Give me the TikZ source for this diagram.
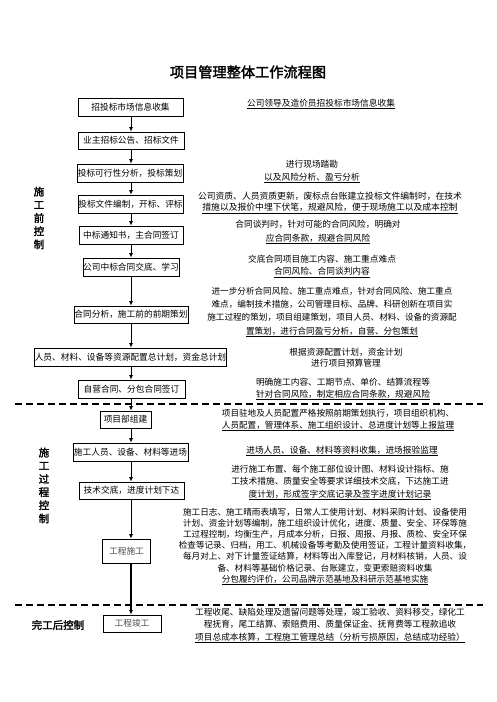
\documentclass[tikz,border=0pt]{standalone}
\usepackage{fontspec}
\newfontfamily\cjk{Noto Sans CJK SC}
\newfontfamily\cjkb[FakeBold=2]{Noto Sans CJK SC}
\usetikzlibrary{arrows.meta}
\begin{document}
\begin{tikzpicture}[x=1pt,y=-1pt,
  box/.style={draw, line width=0.7pt, inner sep=0pt, font=\cjk\fontsize{8.7}{10}\selectfont},
  arr/.style={-{Latex[length=4.5pt,width=4pt]}, line width=0.8pt},
  dashline/.style={line width=1.2pt, dash pattern=on 7pt off 4pt},
  note/.style={font=\cjk\fontsize{8.7}{12.5}\selectfont, align=center, inner sep=0pt},
  side/.style={font=\cjkb\fontsize{10.5}{13.2}\selectfont, align=center, inner sep=0pt}]
\useasboundingbox (0,0) rectangle (496,702);
\fill[white] (0,0) rectangle (496,702);

% title
\node[font=\cjkb\fontsize{14.2}{16}\selectfont, inner sep=0pt] (title) at (248,72) {项目管理整体工作流程图};

% boxes
\node[box, minimum width=105pt, minimum height=18pt] (b1) at (130.5,107) {招投标市场信息收集};
\node[box, minimum width=106pt, minimum height=17pt] (b2) at (131,140.5) {业主招标公告、招标文件};
\node[box, minimum width=106pt, minimum height=18pt] (b3) at (130,173) {投标可行性分析，投标策划};
\node[box, minimum width=105pt, minimum height=18pt] (b4) at (130.5,204) {投标文件编制，开标、评标};
\node[box, minimum width=104pt, minimum height=18pt] (b5) at (131,235) {中标通知书，主合同签订};
\node[box, minimum width=94pt, minimum height=18pt] (b6) at (131,267) {公司中标合同交底、学习};
\node[box, minimum width=114pt, minimum height=17pt] (b7) at (131,314.5) {合同分析，施工前的前期策划};
\node[box, minimum width=191pt, minimum height=18pt] (b8) at (130.5,357) {人员、材料、设备等资源配置总计划，资金总计划};
\node[box, minimum width=107pt, minimum height=18pt] (b9) at (131.5,389) {自营合同、分包合同签订};
\node[box, minimum width=51pt, minimum height=17pt] (b10) at (125.5,419.5) {项目部组建};
\node[box, minimum width=115pt, minimum height=18pt] (b11) at (130.5,452) {施工人员、设备、材料等进场};
\node[box, minimum width=105pt, minimum height=17pt] (b12) at (131.5,490.5) {技术交底，进度计划下达};
\node[box, minimum width=48pt, minimum height=24pt, text=black!70] (b13) at (126.5,551) {工程施工};
\node[box, minimum width=58pt, minimum height=17pt, text=black!70] (b14) at (132,623.5) {工程竣工};

% axis of arrows
\coordinate (ax) at (131,0);
\draw[arr] (b1.south -| ax) -- (b2.north -| ax);
\draw[arr] (b2.south -| ax) -- (b3.north -| ax);
\draw[arr] (b3.south -| ax) -- (b4.north -| ax);
\draw[arr] (b4.south -| ax) -- (b5.north -| ax);
\draw[arr] (b5.south -| ax) -- (b6.north -| ax);
\draw[arr] (b6.south -| ax) -- (b7.north -| ax);
\draw[arr] (b7.south -| ax) -- (b8.north -| ax);
\draw[arr] (b8.south -| ax) -- (b9.north -| ax);
\draw[arr] (b9.south -| ax) -- (b10.north -| ax);
\draw[arr] (b10.south -| ax) -- (b11.north -| ax);
\draw[arr] (b11.south -| ax) -- (b12.north -| ax);
\draw[arr] (b12.south -| ax) -- (b13.north -| ax);
\draw[arr, line width=1.1pt] (b13.south -| ax) -- (b14.north -| ax);

% dashed separators
\coordinate (d1l) at (15,404);
\coordinate (d1r) at (483,404);
\coordinate (d2l) at (15,605);
\coordinate (d2r) at (483,605);
\draw[dashline] (d1l) -- (d1r);
\draw[dashline] (d2l) -- (d2r);

% side labels
\node[side] (s1) at (39,218) {施\\工\\前\\控\\制};
\node[side] (s2) at (44,485.5) {施\\工\\过\\程\\控\\制};
\node[side] (s3) at (58,625) {完工后控制};

% notes
\node[note] (t1) at (321,104) {\underline{公司领导及造价员招投标市场信息收集}};
\node[note] (t2) at (312,171.5) {进行现场踏勘\\\underline{以及风险分析、盈亏分析}};
\node[note, font=\cjk\fontsize{8.8}{11.5}\selectfont] (t3) at (330,202.5) {公司资质、人员资质更新，废标点台账建立投标文件编制时，在技术\\\underline{措施以及报价中埋下伏笔，规避风险，便于现场施工以及成本控制}};
\node[note, font=\cjk\fontsize{8.7}{14}\selectfont] (t4) at (318,232) {合同谈判时，针对可能的合同风险，明确对\\\underline{应合同条款，规避合同风险}};
\node[note] (t5) at (322,266) {交底合同项目施工内容、施工重点难点\\\underline{合同风险、合同谈判内容}};
\node[note, font=\cjk\fontsize{8.6}{13.3}\selectfont] (t6) at (332,312) {进一步分析合同风险、施工重点难点，针对合同风险、施工重点\\难点，编制技术措施，公司管理目标、品牌、科研创新在项目实\\施工过程的策划，项目组建策划，项目人员、材料、设备的资源配\\\underline{置策划，进行合同盈亏分析，自营、分包策划}};
\node[note, font=\cjk\fontsize{8.7}{11.5}\selectfont] (t7) at (346,357.5) {根据资源配置计划，资金计划\\进行项目预算管理};
\node[note, font=\cjk\fontsize{8.7}{12}\selectfont] (t8) at (343,389) {明确施工内容、工期节点、单价、结算流程等\\\underline{针对合同风险，制定相应合同条款，规避风险}};
\node[note, font=\cjk\fontsize{8.6}{12}\selectfont] (t9) at (338,420) {项目驻地及人员配置严格按照前期策划执行，项目组织机构、\\\underline{人员配置，管理体系、施工组织设计、总进度计划等上报监理}};
\node[note] (t10) at (342,451) {\underline{进场人员、设备、材料等资料收集，进场报验监理}};
\node[note] (t11) at (340,482.5) {进行施工布置、每个施工部位设计图、材料设计指标、施\\工技术措施、质量安全等要求详细技术交底，下达施工进\\\underline{度计划，形成签字交底记录及签字进度计划记录}};
\node[note, font=\cjk\fontsize{8.6}{11.2}\selectfont] (t12) at (325,546.5) {施工日志、施工晴雨表填写，日常人工使用计划、材料采购计划、设备使用\\计划、资金计划等编制，施工组织设计优化，进度、质量、安全、环保等施\\工过程控制，均衡生产，月成本分析，日报、周报、月报、质检、安全环保\\检查等记录、归档，用工、机械设备等考勤及使用签证，工程计量资料收集，\\每月对上、对下计量签证结算，材料等出入库登记，月材料核销，人员、设\\备、材料等基础价格记录、台账建立，变更索赔资料收集\\\underline{分包履约评价，公司品牌示范基地及科研示范基地实施}};
\node[note, font=\cjk\fontsize{8.7}{12.5}\selectfont] (t13) at (330,625.5) {工程收尾、缺陷处理及遗留问题等处理，竣工验收、资料移交，绿化工\\程抚育，尾工结算、索赔费用、质量保证金、抚育费等工程款追收\\\underline{项目总成本核算，工程施工管理总结（分析亏损原因，总结成功经验）}};
\end{tikzpicture}
\end{document}
